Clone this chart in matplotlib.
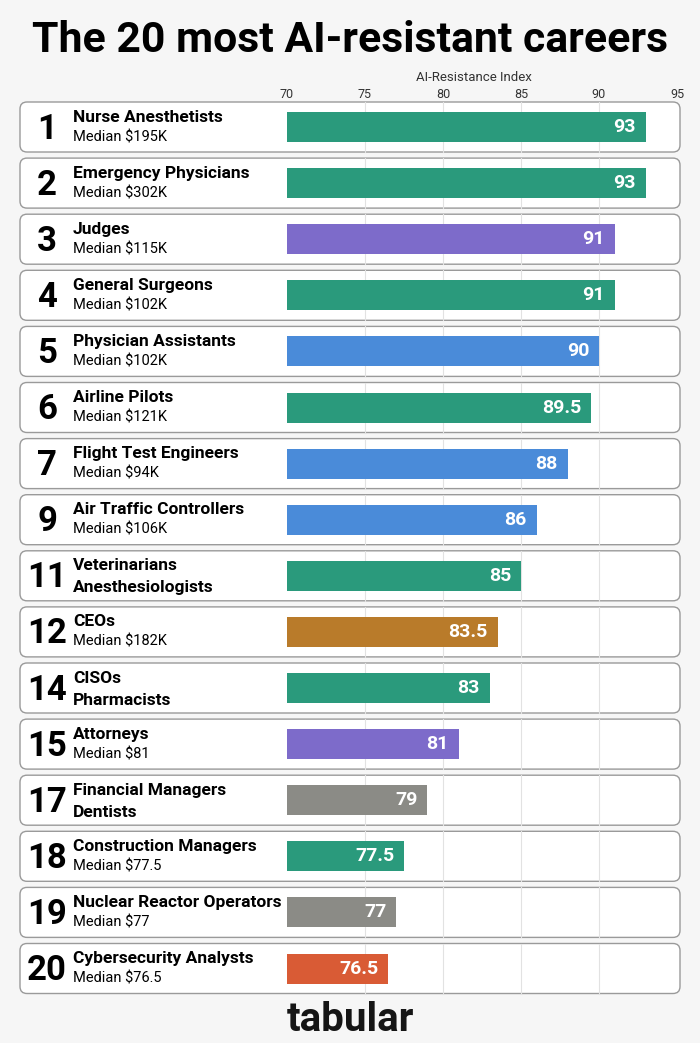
import matplotlib
matplotlib.use("Agg")
import matplotlib.pyplot as plt
from matplotlib.patches import FancyBboxPatch

ranks = [1, 2, 3, 4, 5, 6, 7, 9, 11, 12, 14, 15, 17, 18, 19, 20]
names = ["Nurse Anesthetists", "Emergency Physicians", "Judges", "General Surgeons",
         "Physician Assistants", "Airline Pilots", "Flight Test Engineers",
         "Air Traffic Controllers", "Veterinarians", "CEOs", "CISOs", "Attorneys",
         "Financial Managers", "Construction Managers", "Nuclear Reactor Operators",
         "Cybersecurity Analysts"]
subs = ["Median $195K", "Median $302K", "Median $115K", "Median $102K", "Median $102K",
        "Median $121K", "Median $94K", "Median $106K", "Anesthesiologists", "Median $182K",
        "Pharmacists", "Median $81", "Dentists", "Median $77.5", "Median $77", "Median $76.5"]
values = [93, 93, 91, 91, 90, 89.5, 88, 86, 85, 83.5, 83, 81, 79, 77.5, 77, 76.5]
groups = ["health", "health", "law", "health", "tech", "health", "tech", "tech",
          "health", "business", "health", "law", "finance", "health", "finance", "cyber"]
ticks = [70, 75, 80, 85, 90, 95]

palette = {"health": "#2a9a7c", "law": "#7d6bca", "tech": "#4a8bd9",
           "business": "#b97b2a", "finance": "#8b8b86", "cyber": "#d95b35"}

W, H = 700, 1043
fig = plt.figure(figsize=(W / 100, H / 100), dpi=100, facecolor="#f6f6f6")
ax = fig.add_axes([0, 0, 1, 1])
ax.set_facecolor("#f6f6f6")
x0px, x1px = 287, 677
xpp = 25 / (x1px - x0px)
row0, rowsp = 127, 56.1
ax.set_xlim(70 - x0px * xpp, 70 + (W - x0px) * xpp)
ax.set_ylim((H - row0) / rowsp, -row0 / rowsp)
ax.axis("off")
ypp = 1 / rowsp
asp = ypp / xpp

font = ["Roboto", "DejaVu Sans"]
n = len(values)
left_x = 70 - (x0px - 20) * xpp
right_x = 70 + (680 - x0px) * xpp
for i in range(n):
    card = FancyBboxPatch((left_x, i - 25 * ypp), right_x - left_x, 50 * ypp,
                          boxstyle="round,pad=0,rounding_size=%f" % (7 * xpp),
                          mutation_aspect=asp, facecolor="white", edgecolor="#9a9a9a",
                          linewidth=1.0, zorder=1)
    ax.add_patch(card)
    for t in ticks[1:-1]:
        ax.plot([t, t], [i - 25 * ypp, i + 25 * ypp], color="#e2e2e2", lw=0.8, zorder=1.5)
    ax.text(70 - (x0px - 47) * xpp, i + 2 * ypp, str(ranks[i]), ha="center", va="center",
            fontsize=25, fontweight="bold", family=font, zorder=3)
    ax.text(70 - (x0px - 73) * xpp, i - 10 * ypp, names[i], ha="left", va="center",
            fontsize=12.5, fontweight="bold", family=font, zorder=3)
    sub_bold = not subs[i].startswith("Median")
    ax.text(70 - (x0px - 73) * xpp, i + (12 if sub_bold else 10) * ypp, subs[i], ha="left",
            va="center", fontsize=12.5 if sub_bold else 10.5,
            fontweight="bold" if sub_bold else "normal", family=font, zorder=3)

ax.barh(range(n), [v - 70 for v in values], left=70, height=30 * ypp,
        color=[palette[g] for g in groups], zorder=2)
for i, v in enumerate(values):
    ax.text(v - 10 * xpp, i, f"{v:g}", ha="right", va="center", color="white",
            fontsize=14, fontweight="bold", family=font, zorder=3)

for t in ticks:
    ax.text(t, -33 * ypp, str(t), ha="center", va="center", fontsize=9,
            family=font, color="#333333")
ax.text(82, -50 * ypp, "AI-Resistance Index", ha="center", va="center", fontsize=9.5,
        family=font, color="#333333")

fig.text(0.5, 1 - 40 / H, "The 20 most AI-resistant careers", ha="center", va="center",
         fontsize=30.8, fontweight="bold", family=font)
fig.text(0.5, 1 - 1020 / H, "tabular", ha="center", va="center",
         fontsize=29, fontweight="bold", family=font, color="#151515")

fig.savefig("out.png", dpi=100, facecolor=fig.get_facecolor())
